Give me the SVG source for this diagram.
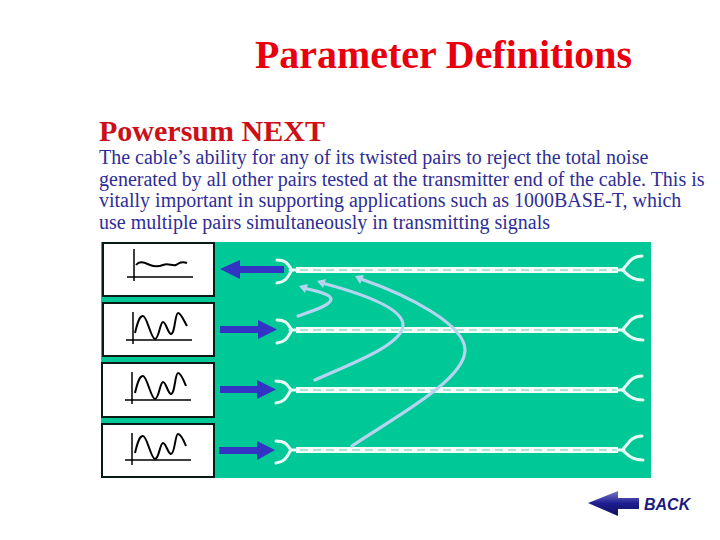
<svg xmlns="http://www.w3.org/2000/svg" width="720" height="540" viewBox="0 0 720 540">
<defs>
<style>
.body{font-family:"Liberation Serif","Times New Roman",serif;font-size:20px;fill:#2e2e96}
.box{fill:#fff;stroke:#0a1a14;stroke-width:2}
.axis{fill:none;stroke:#000;stroke-width:1.5}
.sig{fill:none;stroke:#000;stroke-width:2;stroke-linejoin:round}
.pair{stroke:#f4fcfa;stroke-width:6;fill:none}
.twist{stroke:#5fcfb2;stroke-width:1.2;stroke-dasharray:8 5;fill:none}
.fork{stroke:#e6fbf5;stroke-width:3;fill:none;stroke-linecap:round}
.cross{fill:none;stroke:#b6d4f0;stroke-width:3.2;stroke-linecap:round}
.head{fill:#b6d4f0}
.arrow{fill:#3333c4}
</style>
<linearGradient id="backGrad" x1="0" y1="0" x2="0" y2="1">
<stop offset="0" stop-color="#7a7ac8"/><stop offset="0.5" stop-color="#1c1c90"/><stop offset="1" stop-color="#12125e"/>
</linearGradient>
</defs>
<rect width="720" height="540" fill="#fff"/>
<text x="255" y="68" style="font-family:'Liberation Serif','Times New Roman',serif;font-size:40px;font-weight:700;fill:#e8000e" textLength="377" lengthAdjust="spacingAndGlyphs">Parameter Definitions</text>
<text x="99" y="141" style="font-family:'Liberation Serif','Times New Roman',serif;font-size:30px;font-weight:700;fill:#cc1018" textLength="226" lengthAdjust="spacingAndGlyphs">Powersum NEXT</text>
<text class="body" x="99" y="164">The cable’s ability for any of its twisted pairs to reject the total noise</text>
<text class="body" x="99" y="186">generated by all other pairs tested at the transmitter end of the cable. This is</text>
<text class="body" x="99" y="207">vitally important in supporting applications such as 1000BASE-T, which</text>
<text class="body" x="99" y="229">use multiple pairs simultaneously in transmitting signals</text>
<rect id="panel" x="101" y="242" width="550" height="236" fill="#00c896"/>
<g id="box1"><rect class="box" x="103" y="243" width="111" height="53"/>
<path class="axis" d="M134 249V281M127 277H193"/>
<path class="sig" d="M136 265C140 260 145 263 150 265C155 267 158 267 163 265C168 263 172 266 176 265C179 263 182 261 187 263"/></g>
<g id="box2"><rect class="box" x="103" y="303" width="111" height="53"/>
<path class="axis" d="M133 312V344M126 340H192"/>
<path class="sig" d="M135 333C138 320 140 316 143 316C147 316 151 339 155 339C159 339 160 322 163 322C166 322 168 334 171 334C175 334 175 313 178 313C181 313 184 321 187 326"/></g>
<g id="box3"><rect class="box" x="102" y="363" width="112" height="54"/>
<path class="axis" d="M132 372V404M125 400H191"/>
<path class="sig" d="M135 393C138 380 140 376 143 376C147 376 151 399 155 399C159 399 160 382 163 382C166 382 168 394 171 394C175 394 175 373 178 373C181 373 184 381 186 386"/></g>
<g id="box4"><rect class="box" x="102" y="424" width="112" height="53"/>
<path class="axis" d="M132 433V465M125 460H191"/>
<path class="sig" d="M135 453C138 440 140 436 143 436C147 436 151 459 155 459C159 459 160 443 163 443C166 443 168 454 171 454C175 454 175 434 178 434C181 434 184 441 186 446"/></g>
<g id="connectors">
<path class="arrow" d="M220 269L240 260V266H284V273H240V279Z"/>
<path class="arrow" d="M220 326H258V320L277 329.500L258 339V333H220Z"/>
<path class="arrow" d="M220 386H257V380L276 389.500L257 399V393H220Z"/>
<path class="arrow" d="M219 447H257V441L275 450L257 460V454H219Z"/>
<g id="pair1"><path class="pair" d="M296 270H618"/><path class="twist" d="M300 270H618"/>
<path class="fork" d="M277 260C287 260 288 265 292 270C288 276 287 282 277 283M296 270H290"/>
<path class="fork" d="M642 256C630 256 628 265 622 270C628 274 630 280 643 280M618 270H624"/></g>
<g id="pair2"><path class="pair" d="M296 330H618"/><path class="twist" d="M300 330H618"/>
<path class="fork" d="M277 320C287 320 288 325 292 330C288 336 287 342 277 343M296 330H290"/>
<path class="fork" d="M642 316C630 316 628 325 622 330C628 334 630 340 643 340M618 330H624"/></g>
<g id="pair3"><path class="pair" d="M296 390H618"/><path class="twist" d="M300 390H618"/>
<path class="fork" d="M276 381C286 381 287 385 291 390C287 396 286 402 276 403M296 390H290"/>
<path class="fork" d="M642 376C630 376 628 385 622 390C628 394 630 400 643 400M618 390H624"/></g>
<g id="pair4"><path class="pair" d="M296 450H618"/><path class="twist" d="M300 450H618"/>
<path class="fork" d="M276 441C286 441 287 445 291 450C287 456 286 462 276 463M296 450H290"/>
<path class="fork" d="M642 436C630 436 628 445 622 450C628 454 630 460 643 460M618 450H624"/></g>
<path class="cross" d="M298 316C315 310 331 305 331 299C331 294 315 291 304 288"/>
<path class="head" d="M299 286L308 284L305 293Z"/>
<path class="cross" d="M315 380C350 364 403 345 403 325C403 308 360 293 322 283"/>
<path class="head" d="M317 281L326 279L323 288Z"/>
<path class="cross" d="M352 446C395 417 465 380 465 350C465 325 410 296 361 279"/>
<path class="head" d="M355 276L364 275L360 284Z"/>
</g>
<g id="back">
<path d="M588 503L618 491V498H639V509H618V516Z" fill="url(#backGrad)"/>
<text x="644" y="510" style="font-family:'Liberation Sans',Arial,sans-serif;font-size:16px;font-weight:700;font-style:italic;fill:#1a1a80">BACK</text>
</g>
</svg>
